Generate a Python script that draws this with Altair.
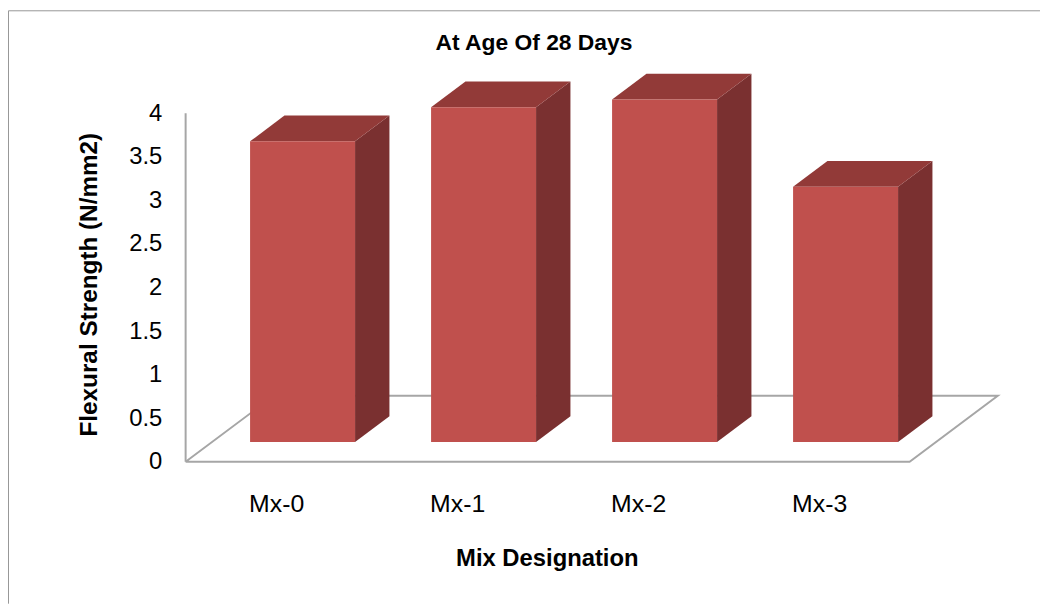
import altair as alt
import pandas as pd

mixes = ["Mx-0", "Mx-1", "Mx-2", "Mx-3"]
strength = [3.45, 3.84, 3.93, 2.93]
y_ticks = [0, 0.5, 1, 1.5, 2, 2.5, 3, 3.5, 4]

# pseudo-3D projection, in data units
DEPTH_X = 0.487
DEPTH_Y = 0.757
BAR_FRONT = 0.30
BAR_BACK = 0.69
BAR_W = 0.58

FRONT = "#C0504D"
TOP = "#923A38"
SIDE = "#7A3030"
GRAY = "#A6A6A6"
FONT = "Liberation Sans"

front, top, side = [], [], []
for i, (m, v) in enumerate(zip(mixes, strength)):
    left = i + 0.5 - BAR_W / 2 + BAR_FRONT * DEPTH_X
    right = left + BAR_W
    base = BAR_FRONT * DEPTH_Y
    dx = (BAR_BACK - BAR_FRONT) * DEPTH_X
    dy = (BAR_BACK - BAR_FRONT) * DEPTH_Y
    front.append(dict(mix=m, x=left, x2=right, y=base, y2=base + v))
    top.append(dict(mix=m, x=left, x2=right, y=base + v))
    top.append(dict(mix=m, x=left + dx, x2=right + dx, y=base + v + dy))
    side.append(dict(mix=m, x=right, y=base, y2=base + v))
    side.append(dict(mix=m, x=right + dx, y=base + dy, y2=base + v + dy))

floor = pd.DataFrame(
    dict(
        o=[0, 1, 2, 3, 4],
        x=[0, 4, 4 + DEPTH_X, DEPTH_X, 0],
        y=[0, 0, DEPTH_Y, DEPTH_Y, 0],
    )
)
wall = pd.DataFrame(dict(x=[0], y=[0], y2=[4]))

label_expr = "[" + ",".join(f"'{m}'" for m in mixes) + "][floor(datum.value)]"

xs = alt.Scale(domain=[0, 4.66], nice=False, zero=False)
ys = alt.Scale(domain=[0, 4.52], nice=False, zero=False)

x_axis = alt.Axis(
    values=[0.5, 1.5, 2.5, 3.5],
    labelExpr=label_expr,
    domain=False,
    ticks=False,
    grid=False,
    labelFont=FONT,
    labelFontSize=25,
    labelColor="#000000",
    labelPadding=42,
    labelBaseline="middle",
    title="Mix Designation",
    titleFont=FONT,
    titleFontSize=24,
    titleFontWeight="bold",
    titleColor="#000000",
    titleX=364,
    titleY=86,
)
y_axis = alt.Axis(
    values=y_ticks,
    format="~g",
    domain=False,
    ticks=False,
    grid=False,
    labelFont=FONT,
    labelFontSize=24,
    labelColor="#000000",
    labelPadding=24,
    title="Flexural Strength (N/mm2)",
    titleFont=FONT,
    titleFontSize=24.5,
    titleFontWeight="bold",
    titleColor="#000000",
    titleX=-85,
    titleY=218,
)

floor_l = (
    alt.Chart(floor)
    .mark_line(color=GRAY, strokeWidth=2, clip=False)
    .encode(
        x=alt.X("x:Q", scale=xs, axis=x_axis),
        y=alt.Y("y:Q", scale=ys, axis=y_axis),
        order="o:O",
    )
)
wall_l = (
    alt.Chart(wall)
    .mark_rule(color=GRAY, strokeWidth=2)
    .encode(x=alt.X("x:Q", scale=xs), y=alt.Y("y:Q", scale=ys), y2="y2:Q")
)
side_m = (
    alt.Chart(pd.DataFrame(side))
    .mark_area(color=SIDE, opacity=1)
    .encode(
        x=alt.X("x:Q", scale=xs),
        y=alt.Y("y2:Q", scale=ys),
        y2="y:Q",
        detail="mix:N",
    )
)
top_m = (
    alt.Chart(pd.DataFrame(top))
    .mark_area(color=TOP, opacity=1, orient="horizontal")
    .encode(
        y=alt.Y("y:Q", scale=ys),
        x=alt.X("x:Q", scale=xs),
        x2="x2:Q",
        detail="mix:N",
    )
)
front_m = (
    alt.Chart(pd.DataFrame(front))
    .mark_rect(color=FRONT)
    .encode(
        x=alt.X("x:Q", scale=xs),
        x2="x2:Q",
        y=alt.Y("y:Q", scale=ys),
        y2="y2:Q",
    )
)
frame_top = (
    alt.Chart(pd.DataFrame(dict(a=[0])))
    .mark_rule(color="#969696", strokeWidth=1)
    .encode(x=alt.value(-178.5), x2=alt.value(861), y=alt.value(-57.5))
)
frame_left = (
    alt.Chart(pd.DataFrame(dict(a=[0])))
    .mark_rule(color="#969696", strokeWidth=1)
    .encode(x=alt.value(-178.5), y=alt.value(-57.5), y2=alt.value(540))
)

chart = (
    alt.layer(frame_top, frame_left, floor_l, wall_l, side_m, top_m, front_m)
    .properties(
        width=850,
        height=397,
        padding={"left": 179, "top": 58, "right": 11, "bottom": 142},
        autosize=alt.AutoSizeParams(type="none"),
        background="#FFFFFF",
        title=alt.TitleParams(
            "At Age Of 28 Days",
            font=FONT,
            fontSize=23,
            fontWeight="bold",
            color="#000000",
            anchor="middle",
            frame="group",
            dx=-74,
            dy=55,
            offset=10,
        ),
    )
    .configure_view(stroke=None)
)

chart.save("out.html", embed_options={"renderer": "svg", "actions": False})
